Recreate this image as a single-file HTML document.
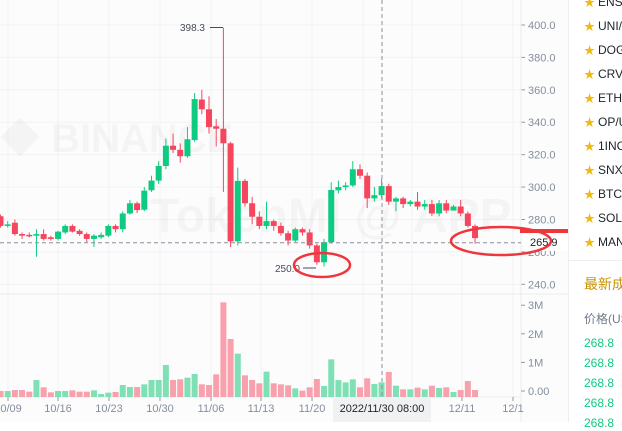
<!DOCTYPE html>
<html><head><meta charset="utf-8"><style>
html,body{margin:0;padding:0;width:622px;height:422px;overflow:hidden;background:#fff;font-family:"Liberation Sans","Noto Sans CJK SC",sans-serif}
svg{position:absolute;left:0;top:0}
.r{position:absolute;left:568px;top:0;width:54px;height:422px;background:#fff;border-left:1px solid #eee}
.it{position:absolute;left:15px;font-size:12px;color:#1e2329;white-space:nowrap;line-height:16px}
.it b{color:#f0b90b;font-weight:normal;margin-right:3px;font-size:11px}
.g{position:absolute;left:15px;font-size:12px;color:#0ecb81;line-height:16px}
</style></head><body>
<svg id="s" width="568" height="422" xmlns="http://www.w3.org/2000/svg"></svg>
<div class="r">
<div class="it" style="top:-6px"><b>★</b>ENS/</div>
<div class="it" style="top:18px"><b>★</b>UNI/</div>
<div class="it" style="top:42px"><b>★</b>DOG</div>
<div class="it" style="top:66px"><b>★</b>CRV/</div>
<div class="it" style="top:90px"><b>★</b>ETH/</div>
<div class="it" style="top:114px"><b>★</b>OP/U</div>
<div class="it" style="top:138px"><b>★</b>1INC</div>
<div class="it" style="top:162px"><b>★</b>SNX/</div>
<div class="it" style="top:186px"><b>★</b>BTC/</div>
<div class="it" style="top:210px"><b>★</b>SOL/</div>
<div class="it" style="top:234px"><b>★</b>MAN</div>
<div style="position:absolute;left:0;top:260px;width:54px;border-top:1px solid #eee"></div>
<div class="it" style="top:276px;font-size:14px;color:#c99400">最新成</div>
<div class="it" style="top:311px;color:#707a8a">价格(US</div>
<div class="g" style="top:335px">268.8</div>
<div class="g" style="top:355px">268.8</div>
<div class="g" style="top:375px">268.8</div>
<div class="g" style="top:395px">268.8</div>
<div class="g" style="top:415px">268.8</div>
</div>
<script>
var s=document.getElementById('s'),h='';
h+='<rect x="0" y="0" width="568" height="422" fill="#fcfcfd"/>';
function Y(p){return 25+(400-p)*259.3/160;}
[8,58,109,160,211,261,312,363,412,462,513].forEach(function(x){h+='<line x1="'+x+'" y1="0" x2="'+x+'" y2="397" stroke="#f1f2f4"/>';});
[400,380,360,340,320,300,280,260,240].forEach(function(p){h+='<line x1="0" y1="'+Y(p)+'" x2="521" y2="'+Y(p)+'" stroke="#f1f2f4"/>';h+='<line x1="521" y1="'+Y(p)+'" x2="525" y2="'+Y(p)+'" stroke="#999"/><text x="528" y="'+(Y(p)+4)+'" font-size="11" fill="#848e9c">'+p.toFixed(1)+'</text>';});
h+='<line x1="0" y1="294" x2="568" y2="294" stroke="#eaecef"/>';
h+='<line x1="521" y1="0" x2="521" y2="422" stroke="#eaecef"/>';
h+='<line x1="0" y1="397" x2="521" y2="397" stroke="#eaecef"/>';
h+='<text x="0" y="152" font-size="40" font-weight="bold" fill="#000" fill-opacity="0.03">◆ BINANCE</text>';
h+='<text x="150" y="232" font-size="48" font-weight="bold" fill="#000" fill-opacity="0.03">TokenMI @ APP</text>';
var C=[[282,276,283,275],[276,277,279,275],[278,271,280,270],[271,270,272,268],[270.5,270,272,269],[270,271,274,257],[271,268,274,267],[269,268,270,267],[268,272.5,273,267],[272,276,277,271],[276,272.5,277,272],[273,271,274,270],[271,268,272,266],[268,270,271,263],[269,270.5,272,268],[270,276,277,269],[276,274,277,272],[274,283.7,285,272],[283.7,290,292,283],[290,285.8,291,284],[286,297.8,300,285],[298,304,307,297],[304,313,316,302],[313,325.5,330,311],[325.5,323,333,321],[323,319,327,315],[319,329.5,337,318],[329,354.3,358,328],[354,348,360,345],[348,337,356,333],[337.5,336,342,325],[336,327,398.3,297],[327,266.5,328,263],[266.5,303.8,312,264],[303.8,290,305,288],[290,281.7,294,277],[281.7,276,285,274],[276,279,291,274],[279,276,280,273],[276,271.5,278,270],[271.5,267,273,264],[267,274,275,266],[274,272,275,270],[272,264,274,262],[264,253.6,265,252],[253.6,266,268,251],[266,298.2,303,265],[298,300,304,296],[300,301,303,298],[301,311,316,300],[311,307,314,305],[307,293,309,287],[293,295,300,291],[295,300.6,305,293],[300.6,291,302,289],[291,293,294,285],[293,289.5,294,287],[289.5,291,292,288],[291,288,297,286],[288,289.5,292,286],[289.5,283.7,292,282],[283.7,290,292,282],[290,285.5,292,284],[285.5,288,289,286],[288,283.7,292,282],[283.7,276,285,275],[276,268.5,277,265]];
var V=[303,303,300,300,305,270,292,307,303,303,301,305,305,301,312,308,306,285,291,291,283,270,270,225,270,268,263,252,283,285,253,37,147,191,256,270,280,245,280,283,286,295,302,292,267,288,208,270,277,268,292,265,282,277,246,287,298,298,293,298,287,294,292,306,300,273,300];
C.forEach(function(c,i){var x=0.5+7.19*i,up=c[1]>=c[0],col=up?'#0ecb81':'#f6465d',vc=up?'#7fe0b5':'#f8a0ab';
var t=Y(Math.max(c[0],c[1])),b=Y(Math.min(c[0],c[1]));if(b-t<1.5)b=t+1.5;
h+='<line x1="'+x+'" y1="'+Y(c[2])+'" x2="'+x+'" y2="'+Y(c[3])+'" stroke="'+col+'" stroke-width="1"/>';
h+='<rect x="'+(x-3)+'" y="'+t+'" width="6" height="'+(b-t)+'" fill="'+col+'"/>';
var vt=290+V[i]/3;h+='<rect x="'+(x-3)+'" y="'+vt+'" width="6" height="'+(397-vt)+'" fill="'+vc+'"/>';});
[[0,'0.00'],[1,'1M'],[2,'2M'],[3,'3M']].forEach(function(v){var y=391-v[0]*28.6;h+='<line x1="521" y1="'+y+'" x2="525" y2="'+y+'" stroke="#999"/><text x="528" y="'+(y+4)+'" font-size="11" fill="#848e9c">'+v[1]+'</text>';});
[[8,'10/09'],[58,'10/16'],[109,'10/23'],[160,'10/30'],[211,'11/06'],[261,'11/13'],[312,'11/20'],[462,'12/11'],[513,'12/1']].forEach(function(d){h+='<line x1="'+d[0]+'" y1="397" x2="'+d[0]+'" y2="401" stroke="#999"/><text x="'+d[0]+'" y="412" font-size="11" fill="#848e9c" text-anchor="middle">'+d[1]+'</text>';});
h+='<rect x="333" y="398" width="98" height="24" fill="#f0f1f2"/><text x="382" y="412" font-size="11" fill="#1e2329" text-anchor="middle">2022/11/30 08:00</text>';
h+='<line x1="382" y1="0" x2="382" y2="397" stroke="#8a8f99" stroke-dasharray="4,3"/>';
h+='<line x1="0" y1="242.7" x2="521" y2="242.7" stroke="#8a8f99" stroke-dasharray="4,3"/>';
h+='<text x="205" y="31" font-size="10" fill="#474d57" text-anchor="end">398.3</text><line x1="210" y1="27.5" x2="223" y2="27.5" stroke="#474d57"/>';
h+='<text x="300" y="272" font-size="10" fill="#474d57" text-anchor="end">250.0</text><line x1="303" y1="268" x2="316" y2="268" stroke="#474d57"/>';
h+='<rect x="524" y="234" width="44" height="17" fill="#fff"/><text x="530" y="246" font-size="11" fill="#1e2329">265.9</text>';
h+='<line x1="520" y1="231" x2="568" y2="231" stroke="#f0363d" stroke-width="4"/>';
h+='<ellipse cx="322" cy="265" rx="28" ry="12" fill="none" stroke="#f0363d" stroke-width="2.5"/>';
h+='<ellipse cx="501" cy="241" rx="50" ry="14" fill="none" stroke="#f0363d" stroke-width="2.5"/>';
s.innerHTML=h;
</script>
</body></html>
